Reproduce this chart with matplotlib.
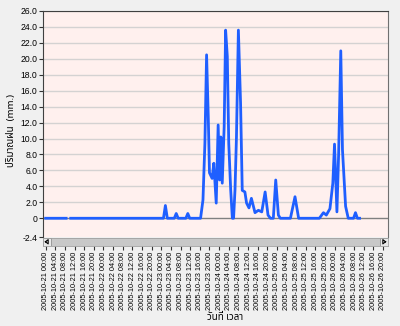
import matplotlib
matplotlib.use("Agg")
import matplotlib.pyplot as plt
from matplotlib.patches import Rectangle
import numpy as np

# hours after 2005-10-21 00:00 and rainfall (mm.)
hours = [0, 8.5, 9.2, 10.4, 48.9, 49.7, 50.5, 53.4, 54.2, 55.0, 58.2, 59.0, 59.8,
         64.3, 65.3, 66.1, 66.8, 67.5, 68.0, 69.1, 69.8, 70.8, 71.6, 72.2, 72.7,
         73.3, 74.1, 74.7, 75.4, 76.0, 76.8, 77.5, 78.0, 78.6, 79.2, 80.0, 80.9,
         81.6, 82.7, 83.4, 84.4, 85.4, 86.9, 88.3, 89.7, 91.1, 92.3, 93.3, 94.5,
         95.5, 96.6, 97.4, 101.6, 103.5, 105.0, 113.6, 115.3, 116.5, 118.0, 119.2,
         119.9, 120.9, 121.6, 122.5, 123.2, 124.5, 125.6, 127.8, 128.6, 129.4, 130.3]
rain = [0, 0, np.nan, 0, 0, 1.6, 0, 0, 0.6, 0, 0, 0.6, 0,
        0, 2.3, 9.4, 20.5, 12.7, 5.7, 5.0, 6.9, 1.9, 11.7, 4.8, 10.2,
        4.4, 11.5, 23.6, 20.3, 9.4, 3.6, 0, 0, 3.6, 10.2, 23.6, 14.5,
        3.5, 3.3, 1.9, 1.3, 2.5, 0.7, 1.0, 0.8, 3.3, 0.4, 0, 0,
        4.8, 0.4, 0, 0, 2.7, 0, 0, 0.7, 0.4, 1.2, 4.4,
        9.3, 0.8, 8.0, 21.0, 8.6, 1.5, 0, 0, 0.7, 0, 0]

tick_hours = list(range(0, 141, 4))
tick_labels = ["2005-10-%02d %02d:00" % (21 + h // 24, h % 24) for h in tick_hours]
y_ticks = [-2.4] + list(range(0, 27, 2))
y_labels = ["-2.4", "0"] + ["%.1f" % v for v in range(2, 27, 2)]

thai = ["Noto Sans Thai", "Sarabun", "DejaVu Sans"]
plt.rcParams["font.family"] = ["Liberation Sans", "DejaVu Sans"]

fig = plt.figure(figsize=(4, 3.26), dpi=100, facecolor="#f0f0f0")
ax = fig.add_axes([0.1075, 0.2718, 0.8625, 0.6945], facecolor="#fff0ee")

ax.set_xlim(-1.1, 142.1)
ax.set_ylim(-2.4, 26)
for v in range(2, 27, 2):
    ax.axhline(v, color="#d4d2d2", lw=1, zorder=1)
ax.axhline(0, color="#808080", lw=1, zorder=2)
ax.plot(hours, rain, color="#1f5fff", lw=2, zorder=3)

ax.set_yticks(y_ticks)
ax.set_yticklabels(y_labels, fontsize=6.2)
ax.tick_params(axis="y", length=3, width=0.8, pad=1, colors="#333333", labelcolor="black")
ax.set_xticks([])
for s in ["left", "top"]:
    ax.spines[s].set_color("#404040")
ax.spines["right"].set_color("#707070")
ax.spines["bottom"].set_visible(False)

# horizontal scrollbar with the date ticks below it
sb = fig.add_axes([0.1075, 0.2454, 0.8625, 0.026], facecolor="#c8c8c8")
sb.set_xlim(-1.1, 142.1)
sb.set_ylim(0, 1)
sb.set_yticks([])
sb.add_patch(Rectangle((0, 0), 0.022, 1, transform=sb.transAxes, facecolor="#e8e8e8",
                       edgecolor="#909090", lw=0.6))
sb.add_patch(Rectangle((0.978, 0), 0.022, 1, transform=sb.transAxes, facecolor="#e8e8e8",
                       edgecolor="#909090", lw=0.6))
sb.plot([0.007, 0.015, 0.015, 0.007], [0.5, 0.25, 0.75, 0.5], transform=sb.transAxes,
        color="black", lw=0.8)
sb.plot([0.993, 0.985, 0.985, 0.993], [0.5, 0.25, 0.75, 0.5], transform=sb.transAxes,
        color="black", lw=0.8)
for s in sb.spines.values():
    s.set_color("#a0a0a0")
    s.set_linewidth(0.6)
sb.set_xticks(tick_hours)
sb.set_xticklabels(tick_labels, rotation=90, fontsize=5.3)
sb.tick_params(axis="x", length=3, width=0.8, pad=1, colors="#333333", labelcolor="black")

fig.text(0.5625, 0.012, "วันที่ เวลา", family=thai, fontsize=7, fontweight="bold",
         ha="center", va="bottom")
fig.text(0.03, 0.6, "ปริมาณฝน  (mm.)", family=thai, fontsize=7, fontweight="bold",
         rotation=90, ha="center", va="center")

fig.savefig("out.png", dpi=100, facecolor=fig.get_facecolor())
